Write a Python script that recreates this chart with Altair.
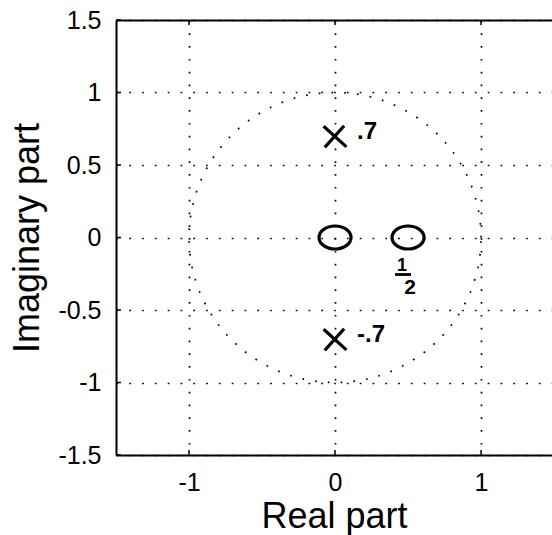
import altair as alt
import pandas as pd

# Axis tick values
x_ticks = [-1, 0, 1]
y_ticks = [-1.5, -1, -0.5, 0, 0.5, 1, 1.5]

# Zeros of the system (real, imaginary)
zero_re = [0.0, 0.5]
zero_im = [0.0, 0.0]

# Poles of the system (real, imaginary) with their hand-written values
pole_re = [0.0, 0.0]
pole_im = [0.7, -0.7]
pole_text = [".7", "-.7"]

# Fraction 1/2 written under the zero at 0.5
half_re = [0.5]
half_im = [0.0]
half_num = ["1"]
half_den = ["2"]

FONT = "Liberation Sans"
label_expr = ("datum.value < 0 ? '-' + format(-datum.value, '~g') "
              ": format(datum.value, '~g')")

x_scale = alt.Scale(domain=[-1.5, 1.486], nice=False, zero=False)
y_scale = alt.Scale(domain=[-1.5, 1.5], nice=False, zero=False)

zeros = pd.DataFrame({"re": zero_re, "im": zero_im})
poles = pd.DataFrame({"re": pole_re, "im": pole_im, "txt": pole_text})
half = pd.DataFrame({"re": half_re, "im": half_im,
                     "num": half_num, "den": half_den})
xt = pd.DataFrame({"v": x_ticks})
yt = pd.DataFrame({"v": y_ticks})


def X(field):
    # x channel for overlay layers: the axes come from the circle layer
    return alt.X(field, scale=x_scale, axis=None)


def Y(field):
    return alt.Y(field, scale=y_scale)


# Dotted unit circle; this layer carries the bottom and left axes and grid
circle = (
    alt.Chart(alt.sequence(0, 361, 2, as_="deg"))
    .transform_calculate(re="cos(datum.deg * PI / 180)",
                         im="sin(datum.deg * PI / 180)")
    .mark_line(color="black", strokeWidth=1.7, strokeDash=[1.7, 11.1])
    .encode(
        x=alt.X("re:Q", scale=x_scale, title="Real part",
                axis=alt.Axis(values=x_ticks, labelExpr=label_expr,
                              orient="bottom")),
        y=alt.Y("im:Q", scale=y_scale, title="Imaginary part",
                axis=alt.Axis(values=y_ticks, labelExpr=label_expr,
                              orient="left")),
        order="deg:Q",
    )
)

# Frame line along the top of the plot
top_axis = (
    alt.Chart(xt)
    .mark_point(opacity=0)
    .encode(
        x=alt.X("v:Q", scale=x_scale,
                axis=alt.Axis(orient="top", values=x_ticks, labels=False,
                              grid=False, title=None)),
    )
)

# Inward tick marks on the left, top and bottom edges
tick_style = dict(color="black", strokeWidth=1.5)
left_ticks = alt.Chart(yt).mark_rule(**tick_style).encode(
    y=Y("v:Q"), x=alt.value(0), x2=alt.value(5))
top_ticks = alt.Chart(xt).mark_rule(**tick_style).encode(
    x=X("v:Q"), y=alt.value(0), y2=alt.value(5))
bottom_ticks = alt.Chart(xt).mark_rule(**tick_style).encode(
    x=X("v:Q"), y=alt.value(435), y2=alt.value(430))

# Zeros drawn as open ellipses
ellipse = "M-1,0A1,0.72 0 1,1 1,0A1,0.72 0 1,1 -1,0Z"
zero_marks = alt.Chart(zeros).mark_point(
    shape=ellipse, size=1024, filled=False, color="black", strokeWidth=3.2,
    opacity=1,
).encode(x=X("re:Q"), y=Y("im:Q"))

# Poles drawn as crosses
cross = "M-1,-0.85L1,0.95M-0.9,1L0.8,-0.9"
pole_marks = alt.Chart(poles).mark_point(
    shape=cross, size=520, filled=False, color="black", strokeWidth=3.2,
    opacity=1,
).encode(x=X("re:Q"), y=Y("im:Q"))

pole_labels = alt.Chart(poles).mark_text(
    font=FONT, fontSize=24, fontWeight="bold", color="black",
    align="left", baseline="middle", dx=22, dy=-4,
).encode(x=X("re:Q"), y=Y("im:Q"), text="txt:N")

# Hand-written fraction: numerator, bar, denominator
frac_text = dict(font=FONT, fontWeight="bold", color="black",
                 align="center", baseline="middle")
half_num_mark = alt.Chart(half).mark_text(
    fontSize=18, dx=-6, dy=28, **frac_text
).encode(x=X("re:Q"), y=Y("im:Q"), text="num:N")
half_den_mark = alt.Chart(half).mark_text(
    fontSize=21, dx=2, dy=50, **frac_text
).encode(x=X("re:Q"), y=Y("im:Q"), text="den:N")
half_bar = alt.Chart(half).mark_point(
    shape="M-1,0L1,0", size=256, filled=False, color="black",
    strokeWidth=2.8, opacity=1, xOffset=-5, yOffset=37,
).encode(x=X("re:Q"), y=Y("im:Q"))

chart = (
    alt.layer(circle, top_axis, left_ticks, top_ticks, bottom_ticks,
              zero_marks, pole_marks, pole_labels,
              half_num_mark, half_bar, half_den_mark)
    .properties(
        width=436, height=435,
        padding={"left": 116, "top": 20, "right": 0, "bottom": 80},
        autosize=alt.AutoSizeParams(type="none"),
        background="white",
    )
    .configure_view(stroke=None)
    .configure_axis(
        domainColor="black", domainWidth=2,
        ticks=False,
        grid=True, gridColor="black", gridOpacity=1, gridWidth=1.7,
        gridDash=[1.7, 11.1],
        labelFont=FONT, labelFontSize=25, labelColor="black",
        titleFont=FONT, titleFontSize=36, titleFontWeight="normal",
        titleColor="black",
    )
    .configure_axisX(labelPadding=15, titlePadding=4)
    .configure_axisY(labelPadding=15, titlePadding=11)
)

chart.save("out.html", embed_options={"renderer": "svg", "actions": False})
